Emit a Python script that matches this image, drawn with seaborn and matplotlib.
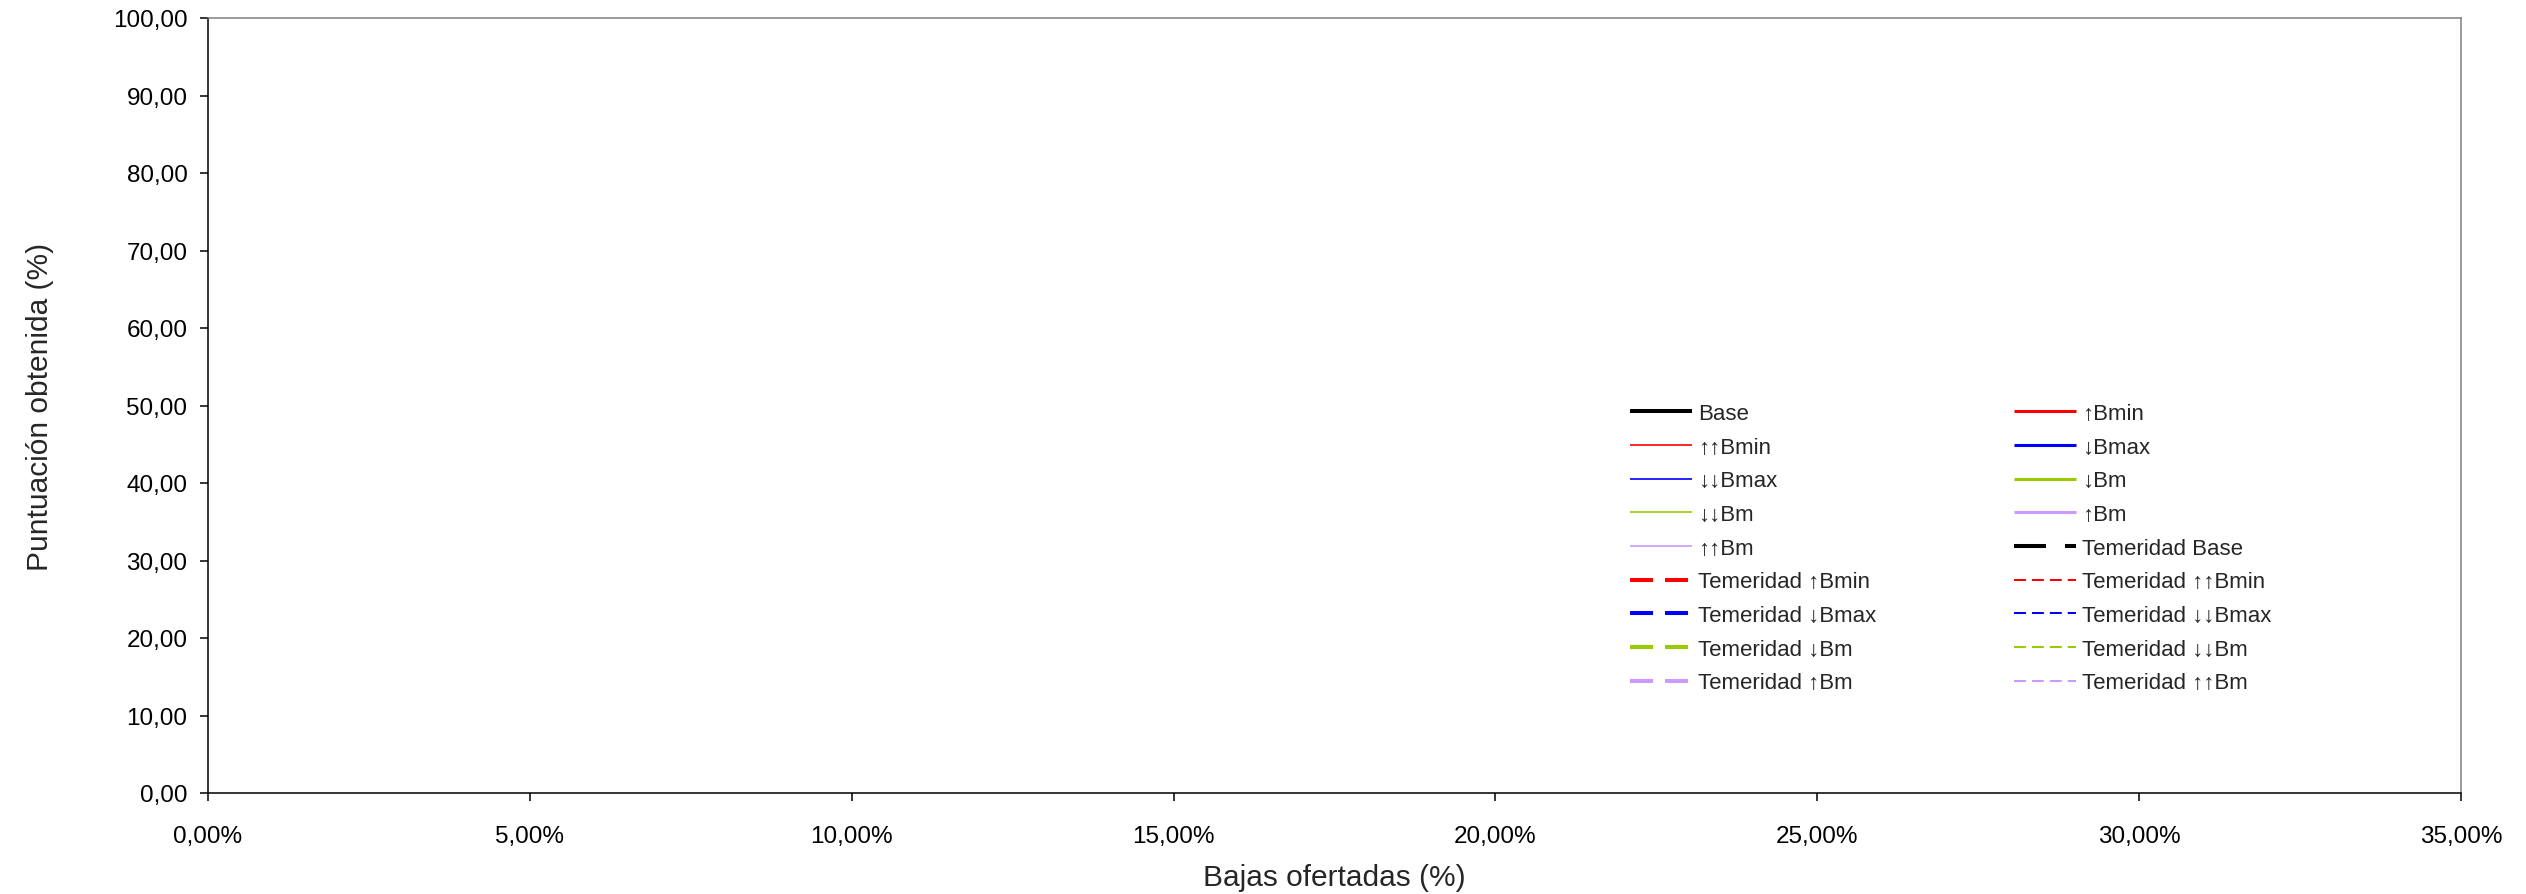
import seaborn as sns
import matplotlib.pyplot as plt
from matplotlib.ticker import FuncFormatter, MultipleLocator

# Series del gráfico (la hoja no tiene puntos visibles: todas vacías)
bajas = []
base = []
sube_bmin = []
sube2_bmin = []
baja_bmax = []
baja2_bmax = []
baja_bm = []
baja2_bm = []
sube_bm = []
sube2_bm = []
tem_base = []
tem_sube_bmin = []
tem_sube2_bmin = []
tem_baja_bmax = []
tem_baja2_bmax = []
tem_baja_bm = []
tem_baja2_bm = []
tem_sube_bm = []
tem_sube2_bm = []

labels = ["Base", "\u2191Bmin", "\u2191\u2191Bmin", "\u2193Bmax", "\u2193\u2193Bmax",
          "\u2193Bm", "\u2193\u2193Bm", "\u2191Bm", "\u2191\u2191Bm",
          "Temeridad Base", "Temeridad \u2191Bmin", "Temeridad \u2191\u2191Bmin",
          "Temeridad \u2193Bmax", "Temeridad \u2193\u2193Bmax", "Temeridad \u2193Bm",
          "Temeridad \u2193\u2193Bm", "Temeridad \u2191Bm", "Temeridad \u2191\u2191Bm"]
series = [base, sube_bmin, sube2_bmin, baja_bmax, baja2_bmax, baja_bm, baja2_bm,
          sube_bm, sube2_bm, tem_base, tem_sube_bmin, tem_sube2_bmin, tem_baja_bmax,
          tem_baja2_bmax, tem_baja_bm, tem_baja2_bm, tem_sube_bm, tem_sube2_bm]

ROJO, AZUL, VERDE, LILA = "#FF0000", "#0000FF", "#99CC00", "#CC99FF"
# (color, grosor, trazos)
estilos = [
    ("black", 2.9, None), (ROJO, 2.2, None), (ROJO, 1.2, None),
    (AZUL, 2.2, None), (AZUL, 1.2, None), (VERDE, 2.2, None), (VERDE, 1.2, None),
    (LILA, 2.2, None), (LILA, 1.2, None),
    ("black", 2.9, (23, 13.7)), (ROJO, 2.9, (16.6, 8.6)), (ROJO, 1.45, (8.6, 4.3)),
    (AZUL, 2.9, (16.6, 8.6)), (AZUL, 1.45, (8.6, 4.3)),
    (VERDE, 2.9, (16.6, 8.6)), (VERDE, 1.45, (8.6, 4.3)),
    (LILA, 2.9, (16.6, 8.6)), (LILA, 1.45, (8.6, 4.3)),
]

sns.set_theme(style="white")
plt.rcParams["font.family"] = ["Liberation Sans", "DejaVu Sans"]
plt.rcParams["lines.scale_dashes"] = False

fig = plt.figure(figsize=(25.26, 8.95), dpi=100)
ax = fig.add_axes([208 / 2526, 1 - 794 / 895, (2461 - 208) / 2526, (794 - 19) / 895])

handles = []
for serie, lab, (col, lw, dash) in zip(series, labels, estilos):
    if dash is None:
        h, = ax.plot(bajas[:len(serie)], serie, color=col, lw=lw, label=lab,
                     solid_capstyle="butt")
    else:
        h, = ax.plot(bajas[:len(serie)], serie, color=col, lw=lw, label=lab,
                     dashes=dash, dash_capstyle="butt")
    handles.append(h)

ax.set_xlim(0, 0.35)
ax.set_ylim(0, 100)
ax.xaxis.set_major_locator(MultipleLocator(0.05))
ax.yaxis.set_major_locator(MultipleLocator(10))
ax.xaxis.set_major_formatter(FuncFormatter(lambda v, p: f"{v * 100:.2f}%".replace(".", ",")))
ax.yaxis.set_major_formatter(FuncFormatter(lambda v, p: f"{v:.2f}".replace(".", ",")))
ax.tick_params(axis="both", direction="out", length=5.8, width=1.1, colors="black",
               labelsize=17.5, bottom=True, left=True)
ax.tick_params(axis="x", pad=17)
ax.tick_params(axis="y", pad=9)

for s in ["left", "bottom"]:
    ax.spines[s].set_color("black")
    ax.spines[s].set_linewidth(1.1)
for s in ["top", "right"]:
    ax.spines[s].set_color("#808080")
    ax.spines[s].set_linewidth(1.1)

ax.set_xlabel("Bajas ofertadas (%)", fontsize=21.5, labelpad=12)
ax.set_ylabel("Puntuación obtenida (%)", fontsize=21.5, labelpad=42)

# leyenda en dos columnas con el orden de Excel (por filas)
orden = list(range(0, 18, 2)) + list(range(1, 18, 2))
leg = ax.legend([handles[i] for i in orden], [labels[i] for i in orden], ncol=2,
                loc="upper left", bbox_to_anchor=(1630 / 2526, 1 - 404 / 895),
                bbox_transform=fig.transFigure, frameon=False, fontsize=16,
                handlelength=2.8, handletextpad=0.25, columnspacing=6.2,
                labelspacing=0.57, borderpad=0, borderaxespad=0)

fig.savefig("out.png", dpi=100)
